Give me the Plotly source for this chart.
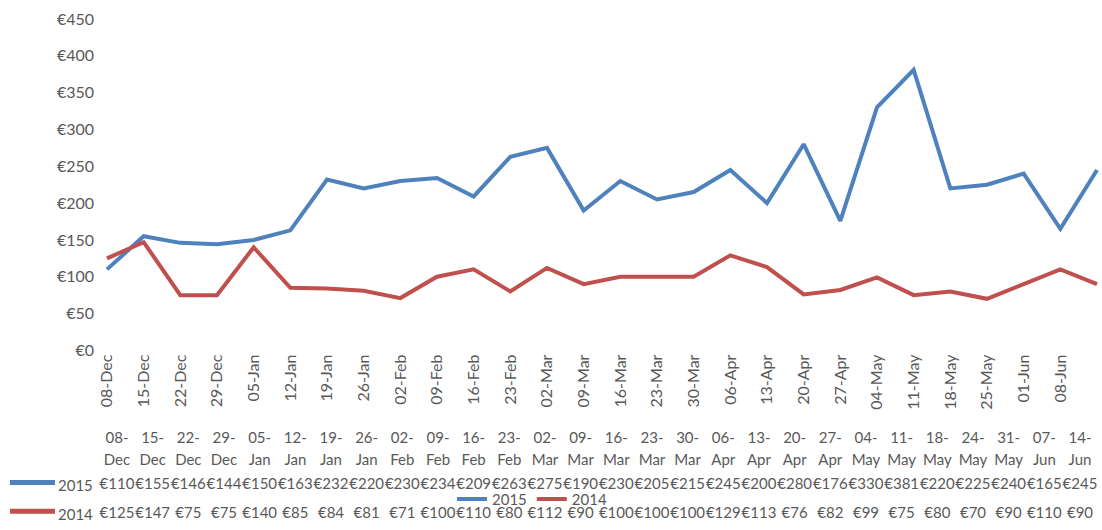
import plotly.graph_objects as go

# ---- data ----
week_labels = ["08-Dec", "15-Dec", "22-Dec", "29-Dec", "05-Jan", "12-Jan", "19-Jan",
               "26-Jan", "02-Feb", "09-Feb", "16-Feb", "23-Feb", "02-Mar", "09-Mar",
               "16-Mar", "23-Mar", "30-Mar", "06-Apr", "13-Apr", "20-Apr", "27-Apr",
               "04-May", "11-May", "18-May", "25-May", "01-Jun", "08-Jun"]
table_labels = ["08-Dec", "15-Dec", "22-Dec", "29-Dec", "05-Jan", "12-Jan", "19-Jan",
                "26-Jan", "02-Feb", "09-Feb", "16-Feb", "23-Feb", "02-Mar", "09-Mar",
                "16-Mar", "23-Mar", "30-Mar", "06-Apr", "13-Apr", "20-Apr", "27-Apr",
                "04-May", "11-May", "18-May", "24-May", "31-May", "07-Jun", "14-Jun"]
sales_2015 = [110, 155, 146, 144, 150, 163, 232, 220, 230, 234, 209, 263, 275, 190,
              230, 205, 215, 245, 200, 280, 176, 330, 381, 220, 225, 240, 165, 245]
sales_2014 = [125, 147, 75, 75, 140, 85, 84, 81, 71, 100, 110, 80, 112, 90,
              100, 100, 100, 129, 113, 76, 82, 99, 75, 80, 70, 90, 110, 90]
series_names = ["2015", "2014"]
y_ticks = [0, 50, 100, 150, 200, 250, 300, 350, 400, 450]

# ---- style ----
BLUE = "#4F81BD"
RED = "#C0504D"
GREY = "#595959"
FONT = "Lato"

W, H = 1102, 530
ML, MR, MT, MB = 95, 0, 19, 2

plot_h = H - MT - MB
plot_w = W - ML - MR
y_zero_px = 355
split = (H - MB - y_zero_px) / plot_h

idx = list(range(len(sales_2015)))
head_top = [lab.split("-")[0] + "-" for lab in table_labels]
head_bot = [lab.split("-")[1] for lab in table_labels]

fig = go.Figure()
fig.add_trace(go.Scatter(x=idx, y=sales_2015, mode="lines", name=series_names[0],
                         line=dict(color=BLUE, width=4)))
fig.add_trace(go.Scatter(x=idx, y=sales_2014, mode="lines", name=series_names[1],
                         line=dict(color=RED, width=4)))

# data table below the chart (row positions in row units of 30 px)
row_px = 30
base_px = 521  # pixel of row 0 (2014 values)
row_y = {"2014": 0, "2015": (base_px - 492) / row_px,
         "head2": (base_px - 467) / row_px, "head1": (base_px - 445) / row_px}
tfont = dict(family=FONT, size=15, color=GREY)


def text_row(texts, yv):
    return go.Scatter(x=idx, y=[yv] * len(idx), mode="text", text=texts,
                      xaxis="x2", yaxis="y2", showlegend=False, cliponaxis=False,
                      hoverinfo="skip", textfont=tfont)


fig.add_trace(text_row(head_top, row_y["head1"]))
fig.add_trace(text_row(head_bot, row_y["head2"]))
fig.add_trace(text_row([f"€{v}" for v in sales_2015], row_y["2015"]))
fig.add_trace(text_row([f"€{v}" for v in sales_2014], row_y["2014"]))


def px_to_paper_x(px):
    return (px - ML) / plot_w


# row headers with legend keys
for name, color in zip(series_names, [BLUE, RED]):
    fig.add_annotation(x=px_to_paper_x(56), y=row_y[name], xref="paper", yref="y2",
                       text=name, showarrow=False, xanchor="left",
                       font=tfont)
    fig.add_shape(type="line", xref="paper", yref="y2",
                  x0=px_to_paper_x(10), x1=px_to_paper_x(55),
                  y0=row_y[name] + 3 / row_px, y1=row_y[name] + 3 / row_px,
                  line=dict(color=color, width=5))

# main axes
p0, p1 = 107, 1097
pt_scale = (p1 - p0) / (len(idx) - 1)
x_r0 = -(p0 - ML) / pt_scale
x_r1 = (len(idx) - 1) + (W - MR - p1) / pt_scale

c0, c1 = 117, 1080
tbl_scale = (c1 - c0) / (len(idx) - 1)
t_r0 = (ML - c0) / tbl_scale
t_r1 = t_r0 + plot_w / tbl_scale

ty_r0 = -(H - MB - base_px) / row_px
ty_r1 = ty_r0 + (split * plot_h) / row_px

fig.update_layout(
    width=W, height=H,
    margin=dict(l=ML, r=MR, t=MT, b=MB),
    paper_bgcolor="white", plot_bgcolor="white",
    font=dict(family=FONT, color=GREY),
    xaxis=dict(domain=[0, 1], anchor="y", range=[x_r0, x_r1],
               tickmode="array", tickvals=list(range(len(week_labels))),
               ticktext=week_labels, tickangle=-90, showgrid=False,
               zeroline=False, showline=False, ticks="",
               tickfont=dict(family=FONT, size=16, color=GREY)),
    yaxis=dict(domain=[split, 1], anchor="x", range=[0, 450],
               tickmode="array", tickvals=y_ticks,
               ticktext=[f"€{v}" for v in y_ticks], ticklabeloverflow="allow",
               showgrid=False, zeroline=False, showline=False, ticks="",
               tickfont=dict(family=FONT, size=16, color=GREY)),
    xaxis2=dict(domain=[0, 1], anchor="y2", range=[t_r0, t_r1], visible=False),
    yaxis2=dict(domain=[0, split], anchor="x2", range=[ty_r0, ty_r1], visible=False),
    legend=dict(orientation="h", x=px_to_paper_x(452), y=(H - MB - 506) / plot_h,
                xanchor="left", yanchor="middle", bgcolor="rgba(0,0,0,0)",
                font=dict(family=FONT, size=15, color=GREY), itemwidth=30,
                tracegroupgap=0),
    showlegend=True,
)

fig.write_html(
    "out.html",
    config={"displayModeBar": False},
    post_script="document.body.style.margin='0';document.body.style.overflow='hidden';",
)
